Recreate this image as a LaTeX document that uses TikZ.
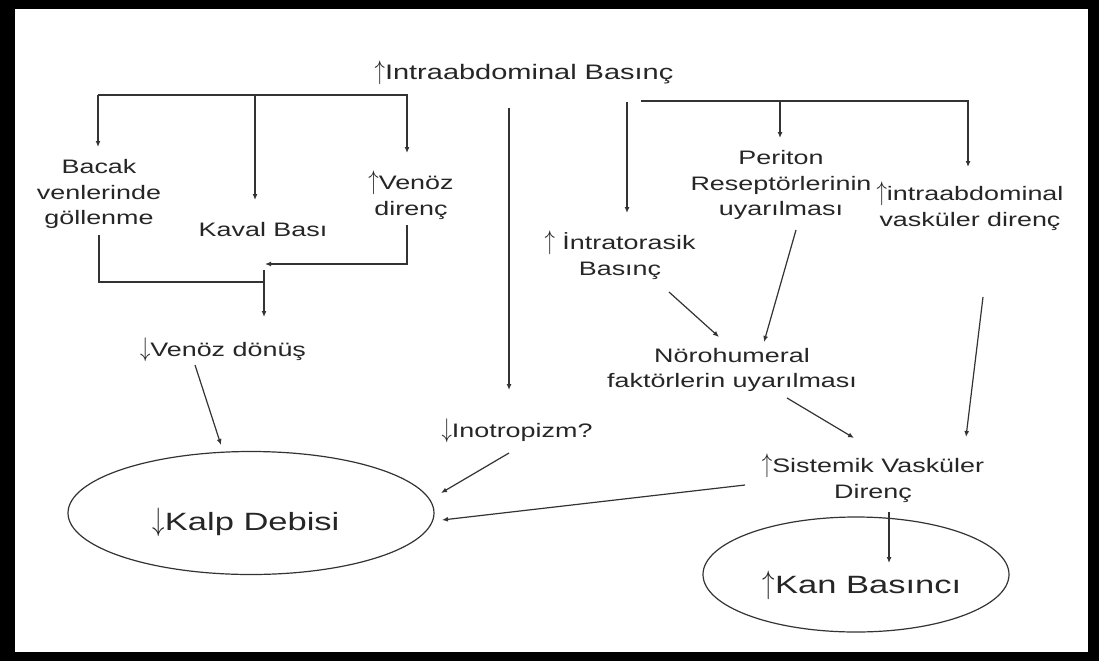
\documentclass[tikz,border=0pt]{standalone}
\usepackage{fontspec}
\usepackage{graphicx}
\setmainfont{Liberation Sans}[FakeStretch=1.38]
\usetikzlibrary{arrows.meta,shapes.geometric}
\definecolor{inkgrey}{HTML}{262626}
\definecolor{linegrey}{HTML}{333333}
\newcommand{\uarr}{\scalebox{1}[1.3]{$\uparrow$}}
\newcommand{\darr}{\scalebox{1}[1.3]{$\downarrow$}}

\begin{document}
\begin{tikzpicture}[x=1pt,y=-1pt,
    txt/.style={align=center,inner sep=0pt,text=inkgrey,font=\fontsize{19.5}{25.5}\selectfont},
    oval/.style={draw=linegrey,ellipse,inner sep=0pt,line width=1.2pt,text=inkgrey,font=\fontsize{25}{30}\selectfont},
    arr/.style={-{Latex[length=6pt,width=5pt]},draw=linegrey,line width=1.2pt},
    link/.style={draw=linegrey,line width=1.2pt}]
  % frame
  \fill[black] (0,0) rectangle (1099,661);
  \fill[white] (15,9) rectangle (1088,652);

  \node[txt,font=\fontsize{21}{25}\selectfont] (IAP) at (524,73) {\uarr Intraabdominal Basınç};
  \node[txt] (bacak) at (99,194) {Bacak\\venlerinde\\göllenme};
  \node[txt] (kaval) at (263,230) {Kaval Bası};
  \node[txt] (venoz) at (411,195) {\uarr Venöz\\direnç};
  \node[txt] (donus) at (223,350) {\darr Venöz dönüş};
  \node[txt] (inotrop) at (517,431) {\darr Inotropizm?};
  \node[txt] (intrat) at (620,255) {\uarr\ İntratorasik\\Basınç};
  \node[txt] (periton) at (781,185) {Periton\\Reseptörlerinin\\uyarılması};
  \node[txt] (ivask) at (970,206) {\uarr intraabdominal\\vasküler direnç};
  \node[txt] (noro) at (732,370) {Nörohumeral\\faktörlerin uyarılması};
  \node[txt] (sist) at (873,478) {\uarr Sistemik Vasküler\\Direnç};
  \node[oval,minimum width=366pt,minimum height=123pt] (kalp) at (251,513)
    {\raisebox{-17pt}[0pt][0pt]{\hspace*{-10pt}\darr Kalp Debisi}};
  \node[oval,minimum width=306pt,minimum height=115pt] (kan) at (856,574.5)
    {\raisebox{-18.5pt}[0pt][0pt]{\hspace*{12pt}\uarr Kan Basıncı}};

  % left branch
  \coordinate (lbL) at ([xshift=-1pt,yshift=99pt]bacak.center);
  \draw[arr] (lbL) -- ([xshift=-1pt,yshift=47pt]bacak.center);
  \draw[arr] (lbL) -| ([xshift=-4pt,yshift=42pt]venoz.center);
  \draw[arr] ([xshift=-8pt,yshift=135pt]kaval.center) -- ([xshift=-8pt,yshift=30pt]kaval.center);
  \coordinate (jn) at ([xshift=41pt,yshift=68pt]donus.center);
  \draw[link] ([yshift=-41pt]bacak.center) |- (jn);
  \draw[arr] ([xshift=-4pt,yshift=-30pt]venoz.center) |- ([xshift=42pt,yshift=86pt]donus.center);
  \draw[arr] ([xshift=41pt,yshift=80pt]donus.center) -- ([xshift=41pt,yshift=33pt]donus.center);
  \draw[arr] ([xshift=-28pt,yshift=-15pt]donus.center) -- ([xshift=-30pt,yshift=68pt]kalp.center);

  % middle
  \draw[arr] ([xshift=-15pt,yshift=-35pt]IAP.center) -- ([xshift=-8pt,yshift=41pt]inotrop.center);
  \draw[arr] ([xshift=-8pt,yshift=-22pt]inotrop.center) -- ([xshift=190pt,yshift=20pt]kalp.center);

  % right branch
  \draw[arr] ([xshift=103pt,yshift=-29pt]IAP.center) -- ([xshift=7pt,yshift=42pt]intrat.center);
  \coordinate (rbL) at ([xshift=117pt,yshift=-28pt]IAP.center);
  \draw[arr] (rbL) -| ([xshift=-2pt,yshift=39pt]ivask.center);
  \draw[arr] ([xshift=-1pt,yshift=84pt]periton.center) -- ([xshift=-1pt,yshift=47pt]periton.center);
  \draw[arr] ([xshift=49pt,yshift=-37pt]intrat.center) -- ([xshift=-13pt,yshift=33pt]noro.center);
  \draw[arr] ([xshift=15pt,yshift=-45pt]periton.center) -- ([xshift=32pt,yshift=28pt]noro.center);
  \draw[arr] ([xshift=55pt,yshift=-28pt]noro.center) -- ([xshift=-19pt,yshift=40pt]sist.center);
  \draw[arr] ([xshift=13pt,yshift=-91pt]ivask.center) -- ([xshift=93pt,yshift=41pt]sist.center);
  \draw[arr] ([xshift=16pt,yshift=-34pt]sist.center) -- ([xshift=33pt,yshift=11.5pt]kan.center);
  \draw[arr] ([xshift=-128pt,yshift=-7pt]sist.center) -- ([xshift=191pt,yshift=-7pt]kalp.center);
\end{tikzpicture}
\end{document}
